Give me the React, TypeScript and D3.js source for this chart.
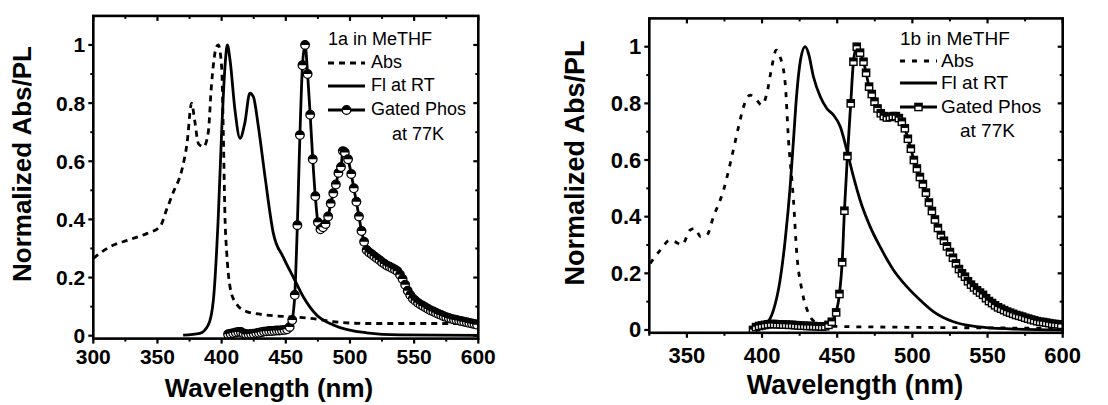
import React from 'react';
import * as d3 from 'd3';

// ---- panel 1a ----
const absA_nm = [300, 313, 328, 342, 352, 357, 362, 369, 373, 376.6, 379, 382, 386, 389.6, 392, 396, 397.4, 400, 401.3, 402.6, 404, 406.5, 410.4, 419.5, 435, 453, 469, 487, 513, 539, 565, 600];
const absA_val = [0.266, 0.306, 0.33, 0.352, 0.375, 0.432, 0.49, 0.57, 0.66, 0.8, 0.74, 0.66, 0.65, 0.7, 0.857, 0.994, 1.0, 0.925, 0.7, 0.41, 0.283, 0.169, 0.117, 0.083, 0.071, 0.065, 0.06, 0.048, 0.042, 0.042, 0.042, 0.042];

const flA_nm = [370, 383, 389.6, 393.5, 397.4, 400, 402.6, 404.4, 406.5, 410.4, 414.3, 418, 422, 424.7, 428.6, 433.8, 440.3, 448, 456, 463.6, 474, 487, 513, 539, 600];
const flA_val = [0.002, 0.008, 0.037, 0.12, 0.41, 0.7, 0.925, 1.0, 0.95, 0.776, 0.679, 0.73, 0.834, 0.822, 0.72, 0.547, 0.352, 0.27, 0.2, 0.134, 0.071, 0.037, 0.01, 0.003, 0.001];

const phosA_nm = [405, 407, 409, 411, 413, 415, 417, 419, 421, 423, 425, 427, 429, 431, 433, 435, 437, 439, 441, 443, 445, 447, 449, 451, 453, 455, 457, 459, 461, 463, 465, 467, 469, 471, 473, 475, 477, 479, 481, 483, 485, 487, 489, 491, 493, 494.5, 496, 498.5, 501, 503, 505, 507, 509, 511, 513, 515, 517, 519, 521, 523, 525, 527, 529, 531, 533, 535, 537, 539, 541, 543, 545, 547, 549, 551, 553, 555, 557, 559, 561, 563, 565, 567, 569, 571, 573, 575, 577, 579, 581, 583, 585, 587, 589, 591, 593, 595, 597, 599];
const phosA_val = [0.005, 0.007, 0.009, 0.011, 0.013, 0.013, 0.008, 0.005, 0.005, 0.006, 0.007, 0.009, 0.01, 0.012, 0.014, 0.015, 0.016, 0.016, 0.017, 0.018, 0.018, 0.019, 0.02, 0.022, 0.03, 0.054, 0.14, 0.38, 0.69, 0.93, 1.0, 0.9, 0.76, 0.607, 0.48, 0.39, 0.366, 0.373, 0.384, 0.41, 0.455, 0.49, 0.52, 0.56, 0.58, 0.635, 0.63, 0.607, 0.556, 0.507, 0.461, 0.41, 0.36, 0.323, 0.295, 0.286, 0.28, 0.273, 0.266, 0.26, 0.253, 0.247, 0.241, 0.237, 0.232, 0.228, 0.222, 0.21, 0.195, 0.175, 0.155, 0.14, 0.128, 0.12, 0.113, 0.107, 0.102, 0.097, 0.092, 0.087, 0.083, 0.079, 0.075, 0.071, 0.067, 0.064, 0.061, 0.058, 0.056, 0.054, 0.052, 0.05, 0.048, 0.046, 0.044, 0.042, 0.04, 0.038];

// ---- panel 1b ----
const absB_nm = [325.6, 332.3, 339, 342, 346.7, 352.2, 355.5, 359, 363.3, 367.7, 374.4, 379.9, 384.4, 387.7, 392.1, 395.4, 399.9, 403.2, 406.5, 409.4, 412, 415.4, 417.6, 420.9, 423.1, 426.5, 430.9, 436.4, 443, 454.2, 487.4, 531.7, 600];
const absB_val = [0.235, 0.282, 0.318, 0.312, 0.3, 0.353, 0.359, 0.33, 0.335, 0.4, 0.494, 0.612, 0.718, 0.788, 0.829, 0.818, 0.794, 0.835, 0.929, 0.988, 0.965, 0.871, 0.671, 0.459, 0.27, 0.141, 0.059, 0.024, 0.014, 0.012, 0.01, 0.008, 0.006];

const flB_nm = [395, 398.8, 403.2, 407.6, 412, 415.4, 418.7, 420.9, 423.1, 425.4, 428.7, 430.9, 434.2, 438.7, 443.1, 447.5, 452, 456.4, 460.8, 465.2, 471.9, 478.5, 487.4, 496.3, 505.1, 514, 527.3, 542.8, 565, 600];
const flB_val = [0.008, 0.012, 0.024, 0.07, 0.176, 0.318, 0.506, 0.67, 0.835, 0.947, 1.0, 0.976, 0.894, 0.824, 0.782, 0.759, 0.718, 0.635, 0.541, 0.459, 0.365, 0.294, 0.212, 0.153, 0.106, 0.065, 0.029, 0.012, 0.004, 0.0];

const phosB_nm = [394, 396, 398, 400, 402, 404, 406, 408, 410, 412, 414, 416, 418, 420, 422, 424, 426, 428, 430, 432, 434, 436, 438, 440, 442, 444.2, 446.4, 449.3, 451.5, 453.3, 454.8, 456.8, 459, 460.8, 463, 465.2, 467.5, 469.2, 471.2, 473, 474.8, 476.8, 479, 481, 483, 485, 487, 489, 491, 493, 495, 497, 499, 501, 503, 505, 507, 509, 511, 513, 515, 517, 519, 521, 523, 525, 527, 529, 531, 533, 535, 537, 539, 541, 543, 545, 547, 549, 551, 553, 555, 557, 559, 561, 563, 565, 567, 569, 571, 573, 575, 577, 579, 581, 583, 585, 587, 589, 591, 593, 595, 597, 599];
const phosB_val = [0.0, 0.01, 0.014, 0.016, 0.018, 0.02, 0.021, 0.021, 0.02, 0.02, 0.019, 0.019, 0.018, 0.018, 0.017, 0.016, 0.015, 0.015, 0.014, 0.014, 0.014, 0.013, 0.013, 0.012, 0.013, 0.018, 0.029, 0.062, 0.127, 0.239, 0.421, 0.614, 0.8, 0.947, 1.0, 0.979, 0.947, 0.908, 0.859, 0.833, 0.806, 0.782, 0.765, 0.755, 0.75, 0.752, 0.755, 0.755, 0.748, 0.735, 0.712, 0.675, 0.64, 0.6, 0.57, 0.54, 0.515, 0.485, 0.45, 0.42, 0.39, 0.36, 0.335, 0.315, 0.295, 0.275, 0.255, 0.235, 0.215, 0.2, 0.188, 0.172, 0.16, 0.15, 0.14, 0.132, 0.124, 0.112, 0.102, 0.095, 0.087, 0.08, 0.075, 0.07, 0.065, 0.061, 0.057, 0.053, 0.05, 0.047, 0.043, 0.04, 0.037, 0.034, 0.031, 0.029, 0.028, 0.026, 0.024, 0.022, 0.021, 0.02, 0.018];

// ticks
const yMajor = [0, 0.2, 0.4, 0.6, 0.8, 1];
const yMinor = [0.1, 0.3, 0.5, 0.7, 0.9];
const xMajorA = [300, 350, 400, 450, 500, 550, 600];
const xMinorA = [325, 375, 425, 475, 525, 575];
const xMajorB = [350, 400, 450, 500, 550, 600];
const xMinorB = [325, 375, 425, 475, 525, 575];

const FONT = "'Liberation Sans', Arial, Helvetica, sans-serif";

const pairs = (xs: number[], ys: number[]) => xs.map((v, i) => [v, ys[i]] as [number, number]);

const Marker = ({ kind, cx, cy }: { kind: string; cx: number; cy: number }) => {
  if (kind === 'circle') {
    const r = 4.3;
    return (
      <g transform={`translate(${cx},${cy})`}>
        <circle r={r} fill="white" stroke="black" strokeWidth={1.3} />
        <path d={`M${-r},0 A${r},${r} 0 0 1 ${r},0 Z`} fill="black" />
      </g>
    );
  }
  const s = 3.6;
  return (
    <g transform={`translate(${cx},${cy})`}>
      <rect x={-s} y={-s} width={2 * s} height={2 * s} fill="white" stroke="black" strokeWidth={1.4} />
      <rect x={-s} y={-s} width={2 * s} height={s * 0.9} fill="black" />
    </g>
  );
};

type PanelProps = {
  id: string;
  left: number; right: number; top: number; bottom: number;
  xDomain: [number, number];
  xMajor: number[]; xMinor: number[];
  abs: [number, number][]; fl: [number, number][]; phos: [number, number][];
  marker: string; dash: string;
  tickFont: number; titleFont: number; legFont: number;
  xLabelY: number; xTitle: [number, number]; yTitle: [number, number];
  legend: { title: string; x0: number; x1: number; tx: number; rows: number[]; lines: number[]; subX: number };
};

const Panel = (p: PanelProps) => {
  const x = d3.scaleLinear().domain(p.xDomain).range([p.left, p.right]);
  const y = d3.scaleLinear().domain([-0.01, 1.1]).range([p.bottom, p.top]);
  const line = d3.line<[number, number]>().x(d => x(d[0])).y(d => y(d[1])).curve(d3.curveMonotoneX);
  const lw = 2.8;
  const L = p.legend;
  return (
    <g fontFamily={FONT}>
      <defs>
        <clipPath id={`clip-${p.id}`}>
          <rect x={p.left} y={p.top} width={p.right - p.left} height={p.bottom - p.top} />
        </clipPath>
      </defs>
      <g clipPath={`url(#clip-${p.id})`}>
        <path d={line(p.abs) || ''} fill="none" stroke="black" strokeWidth={lw} strokeDasharray={p.dash} />
        <path d={line(p.fl) || ''} fill="none" stroke="black" strokeWidth={lw} />
        <path d={line(p.phos) || ''} fill="none" stroke="black" strokeWidth={lw} />
        {p.phos.map((d, i) => <Marker key={i} kind={p.marker} cx={x(d[0])} cy={y(d[1])} />)}
      </g>
      {/* frame */}
      <rect x={p.left} y={p.top} width={p.right - p.left} height={p.bottom - p.top} fill="none" stroke="black" strokeWidth={2.6} />
      {/* x ticks */}
      {p.xMajor.map(t => (
        <g key={`xm${t}`}>
          <line x1={x(t)} x2={x(t)} y1={p.bottom} y2={p.bottom + 5} stroke="black" strokeWidth={2.2} />
          <line x1={x(t)} x2={x(t)} y1={p.top} y2={p.top + 5} stroke="black" strokeWidth={2.2} />
          <text x={x(t)} y={p.xLabelY} textAnchor="middle" fontSize={p.tickFont} fontWeight="bold">{t}</text>
        </g>
      ))}
      {p.xMinor.map(t => (
        <g key={`xn${t}`}>
          <line x1={x(t)} x2={x(t)} y1={p.bottom} y2={p.bottom + 3} stroke="black" strokeWidth={2} />
          <line x1={x(t)} x2={x(t)} y1={p.top} y2={p.top + 3} stroke="black" strokeWidth={2} />
        </g>
      ))}
      {/* y ticks */}
      {yMajor.map(t => (
        <g key={`ym${t}`}>
          <line x1={p.left - 5} x2={p.left} y1={y(t)} y2={y(t)} stroke="black" strokeWidth={2.2} />
          <line x1={p.right - 5} x2={p.right} y1={y(t)} y2={y(t)} stroke="black" strokeWidth={2.2} />
          <text x={p.left - 8} y={y(t)} textAnchor="end" dominantBaseline="central" fontSize={p.tickFont} fontWeight="bold">
            {t === 0 || t === 1 ? String(t) : t.toFixed(1)}
          </text>
        </g>
      ))}
      {yMinor.map(t => (
        <g key={`yn${t}`}>
          <line x1={p.left - 3} x2={p.left} y1={y(t)} y2={y(t)} stroke="black" strokeWidth={2} />
          <line x1={p.right - 3} x2={p.right} y1={y(t)} y2={y(t)} stroke="black" strokeWidth={2} />
        </g>
      ))}
      {/* axis titles */}
      <text x={p.xTitle[0]} y={p.xTitle[1]} textAnchor="middle" fontSize={p.titleFont} fontWeight="bold">Wavelength (nm)</text>
      <text transform={`translate(${p.yTitle[0]},${p.yTitle[1]}) rotate(-90)`} textAnchor="middle" dominantBaseline="central" fontSize={p.titleFont} fontWeight="bold">Normalized Abs/PL</text>
      {/* legend */}
      <g fontSize={p.legFont}>
        <text x={L.x0} y={L.rows[0]}>{L.title}</text>
        <line x1={L.x0} x2={L.x1} y1={L.lines[0]} y2={L.lines[0]} stroke="black" strokeWidth={lw} strokeDasharray={p.dash} />
        <text x={L.tx} y={L.rows[1]}>Abs</text>
        <line x1={L.x0} x2={L.x1} y1={L.lines[1]} y2={L.lines[1]} stroke="black" strokeWidth={lw} />
        <text x={L.tx} y={L.rows[2]}>Fl at RT</text>
        <line x1={L.x0} x2={L.x1} y1={L.lines[2]} y2={L.lines[2]} stroke="black" strokeWidth={lw} />
        <Marker kind={p.marker} cx={(L.x0 + L.x1) / 2} cy={L.lines[2]} />
        <text x={L.tx} y={L.rows[3]}>Gated Phos</text>
        <text x={L.subX} y={L.rows[4]}>at 77K</text>
      </g>
    </g>
  );
};

export default function App() {
  return (
    <svg width={1108} height={405} style={{ position: 'absolute', left: 0, top: 0, background: 'white' }}>
      <Panel
        id="a"
        left={93.3} right={478.3} top={15.9} bottom={338.6}
        xDomain={[300, 600]} xMajor={xMajorA} xMinor={xMinorA}
        abs={pairs(absA_nm, absA_val)} fl={pairs(flA_nm, flA_val)} phos={pairs(phosA_nm, phosA_val)}
        marker="circle" dash="6,5"
        tickFont={21} titleFont={26} legFont={18}
        xLabelY={364} xTitle={[269, 397]} yTitle={[22, 164]}
        legend={{ title: '1a in MeTHF', x0: 328, x1: 365, tx: 371, rows: [45, 68, 91, 115, 140], lines: [63, 86, 110], subX: 392 }}
      />
      <Panel
        id="b"
        left={649.3} right={1062.7} top={18.4} bottom={332.8}
        xDomain={[325, 600]} xMajor={xMajorB} xMinor={xMinorB}
        abs={pairs(absB_nm, absB_val)} fl={pairs(flB_nm, flB_val)} phos={pairs(phosB_nm, phosB_val)}
        marker="square" dash="5,7"
        tickFont={22} titleFont={27} legFont={19}
        xLabelY={363} xTitle={[855, 394]} yTitle={[575, 163]}
        legend={{ title: '1b in MeTHF', x0: 900, x1: 937, tx: 941, rows: [45, 67, 89, 113, 137], lines: [61, 83, 107], subX: 960 }}
      />
    </svg>
  );
}
